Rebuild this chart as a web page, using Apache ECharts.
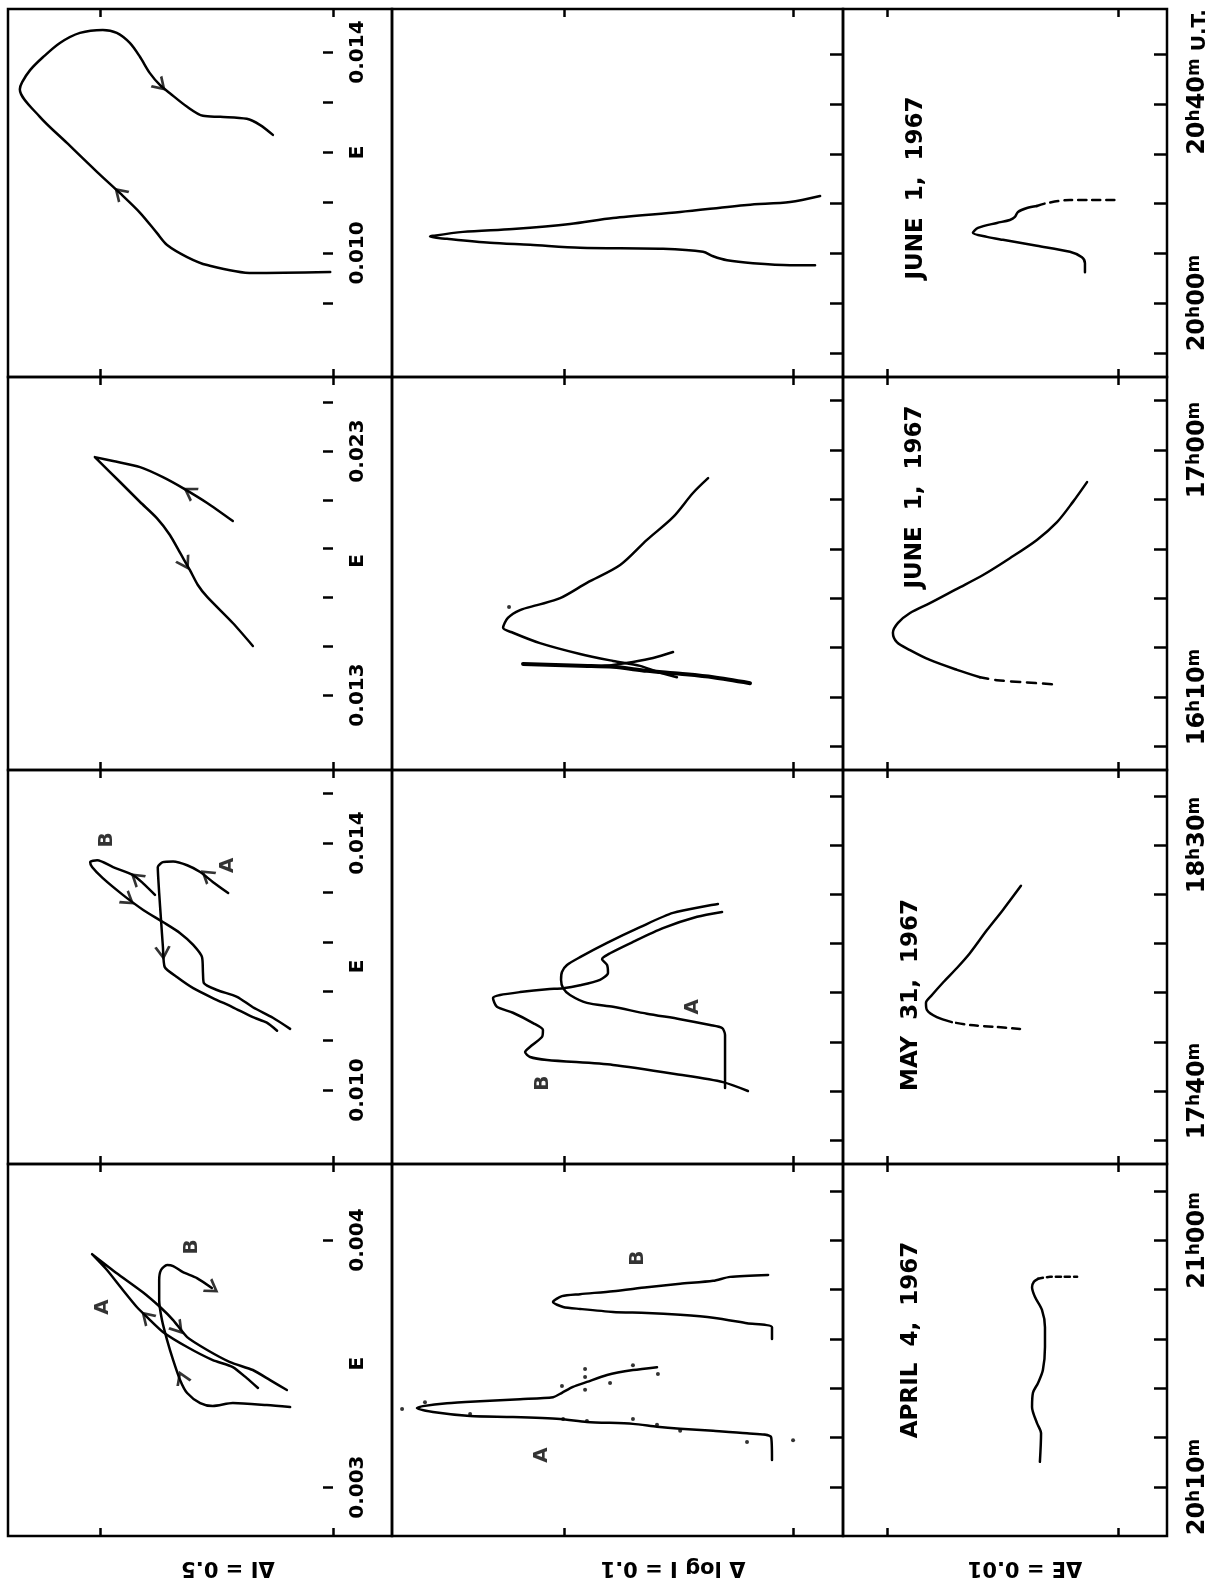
<!DOCTYPE html>
<html><head><meta charset="utf-8">
<script src="https://cdn.jsdelivr.net/npm/echarts@6/dist/echarts.min.js"></script>
<style>html,body{margin:0;padding:0;background:#fff}#c{width:1210px;height:1582px}</style>
</head><body><div id="c"></div>
<script>
// ---------------- DATA ----------------
// scale ticks (horizontal axes)
const scaleTicksI = [0, 0.5];        // ΔI = 0.5
const scaleTicksLog = [0, 0.1];      // Δ log I = 0.1
const scaleTicksE = [0, 0.01];       // ΔE = 0.01

// time axes (minutes of day)
const evTimeTicks = [1190,1200,1210,1220,1230,1240,1250];
const evTimeLabelVals = [1200,1240];
const evTimeLabelTexts = ['20h00m','20h40m U.T.'];
const afTimeTicks = [960,970,980,990,1000,1010,1020,1030];
const afTimeLabelVals = [970,1020];
const afTimeLabelTexts = ['16h10m','17h00m'];
const mayTimeTicks = [1050,1060,1070,1080,1090,1100,1110,1120];
const mayTimeLabelVals = [1060,1110];
const mayTimeLabelTexts = ['17h40m','18h30m'];
const aprTimeTicks = [1210,1220,1230,1240,1250,1260,1270];
const aprTimeLabelVals = [1210,1260];
const aprTimeLabelTexts = ['20h10m','21h00m'];

// E axes of the ΔI panels
const evETicks = [0.009,0.010,0.011,0.012,0.013,0.014];
const evELabelVals = [0.010,0.012,0.014];
const evELabelTexts = ['0.010','E','0.014'];
const afETicks = [0.013,0.015,0.017,0.019,0.021,0.023,0.025];
const afELabelVals = [0.013,0.0185,0.023];
const afELabelTexts = ['0.013','E','0.023'];
const mayETicks = [0.0100,0.0108,0.0116,0.0124,0.0132,0.0140,0.0148];
const mayELabelVals = [0.010,0.012,0.014];
const mayELabelTexts = ['0.010','E','0.014'];
const aprETicks = [0.003,0.004];
const aprELabelVals = [0.003,0.0035,0.004];
const aprELabelTexts = ['0.003','E','0.004'];

const dateLabels = ['JUNE  1,  1967','JUNE  1,  1967','MAY  31,  1967','APRIL  4,  1967'];
const scaleLabels = ['ΔI = 0.5','Δ log I = 0.1','ΔE = 0.01'];

// ---- ΔI vs E loops ----
const evLoopI = [0.006,0.172,0.270,0.313,0.356,0.378,0.414,0.457,0.506,0.571,0.629,0.672,0.667,0.650,0.622,0.586,0.543,0.494,0.464,0.436,0.414,0.393,0.371,0.350,0.313,0.279,0.242,0.185,0.157,0.129];
const evLoopE = [0.00962,0.00960,0.00976,0.00992,0.01016,0.01040,0.01080,0.01119,0.01161,0.01219,0.01271,0.01326,0.01340,0.01364,0.01390,0.01418,0.01438,0.01444,0.01438,0.01418,0.01390,0.01358,0.01334,0.01318,0.01291,0.01273,0.01271,0.01267,0.01255,0.01235];
const evArrows = [[0.457,0.01119,46],[0.371,0.01334,-135]];

const afLoopI = [0.215,0.270,0.322,0.365,0.414,0.472,0.511,0.457,0.414,0.378,0.350,0.328,0.307,0.290,0.270,0.215,0.172];
const afLoopE = [0.02013,0.02087,0.02148,0.02193,0.02234,0.02259,0.02275,0.02173,0.02091,0.02025,0.01956,0.01882,0.01812,0.01751,0.01702,0.01595,0.01501];
const afArrows = [[0.307,0.02132,58],[0.318,0.01841,-150]];

const mayA_I = [0.225,0.258,0.285,0.313,0.343,0.365,0.376,0.373,0.369,0.365,0.361,0.335,0.300,0.258,0.215,0.172,0.142,0.120];
const mayA_E = [0.01319,0.01337,0.01353,0.01364,0.01370,0.01369,0.01361,0.01319,0.01275,0.01232,0.01199,0.01183,0.01165,0.01149,0.01134,0.01118,0.01109,0.01096];
const mayB_I = [0.382,0.408,0.429,0.472,0.506,0.521,0.517,0.494,0.451,0.408,0.365,0.328,0.300,0.281,0.279,0.277,0.249,0.206,0.172,0.129,0.092];
const mayB_E = [0.01316,0.01335,0.01348,0.01361,0.01372,0.01369,0.01361,0.01343,0.01316,0.01292,0.01272,0.01254,0.01235,0.01215,0.01189,0.01173,0.01162,0.01151,0.01134,0.01117,0.01099];
const mayArrows = [[0.270,0.01348,52],[0.365,0.01223,-175],[0.421,0.01343,51],[0.440,0.01308,-127]];
const mayLetters = [['B',0.485,0.01405],['A',0.225,0.01364]];

const aprA_I = [0.161,0.185,0.215,0.258,0.313,0.365,0.399,0.421,0.451,0.485,0.517,0.464,0.408,0.371,0.343,0.313,0.270,0.221,0.172,0.135,0.099];
const aprA_E = [0.003401,0.003441,0.003486,0.003514,0.003567,0.003628,0.003688,0.003729,0.003798,0.003879,0.003943,0.003866,0.003789,0.003729,0.003676,0.003607,0.003555,0.003506,0.003474,0.003433,0.003393];
const aprB_I = [0.092,0.142,0.215,0.258,0.285,0.313,0.328,0.343,0.356,0.367,0.373,0.373,0.369,0.356,0.343,0.322,0.292,0.260];
const aprB_E = [0.003324,0.003332,0.003340,0.003328,0.003340,0.003381,0.003433,0.003514,0.003595,0.003676,0.003757,0.003838,0.003879,0.003899,0.003895,0.003870,0.003846,0.003806];
const aprArrows = [[0.399,0.003688,46],[0.333,0.003644,-140],[0.324,0.003441,23],[0.260,0.003806,-124]];
const aprLetters = [['A',0.494,0.003729],['B',0.303,0.003972]];

// ---- Δ log I vs time ----
const evLogT = [1207.6,1207.6,1208.0,1208.6,1209.4,1210.3,1210.9,1211.1,1211.7,1212.1,1212.9,1213.3,1213.5,1214.3,1214.9,1215.9,1217.1,1218.3,1219.7,1220.3,1221.5];
const evLog = [-0.0096,0.0013,0.0175,0.0288,0.0349,0.0393,0.0568,0.0930,0.1148,0.1323,0.1511,0.1585,0.1572,0.1441,0.1223,0.0974,0.0786,0.0493,0.0201,0.0013,-0.0118];

const afLog1T = [972.8,974.0,974.7,975.3,976.1,976.3,976.7];
const afLog1 = [0.0188,0.0349,0.0493,0.0638,0.0786,0.0930,0.1179];
const afLog2T = [974.0,975.1,976.3,977.3,978.7,980.9,983.0,984.0,986.0,987.6,988.6,990.0,993.1,996.7,1001.8,1006.4,1011.3,1014.3];
const afLog2 = [0.0507,0.0594,0.0668,0.0786,0.0930,0.1105,0.1223,0.1266,0.1245,0.1192,0.1118,0.1017,0.0900,0.0755,0.0638,0.0524,0.0437,0.0371];
const afLog3T = [976.1,976.5,977.1,977.9,979.1];
const afLog3 = [0.0873,0.0786,0.0699,0.0611,0.0524];
const afDotT = [988.2];
const afDot = [0.124];

const mayLogAT = [1060.6,1071.4,1072.8,1073.4,1074.6,1075.7,1077.1,1077.9,1079.5,1080.9,1082.6,1084.2,1085.6,1087.2,1090.1,1093.3,1096.2,1098.0];
const mayLogA = [0.0297,0.0297,0.0310,0.0362,0.0493,0.0638,0.0786,0.0900,0.0974,0.1004,0.1013,0.1009,0.0987,0.0930,0.0812,0.0668,0.0524,0.0328];
const mayLogBT = [1060.0,1061.8,1063.3,1065.3,1066.3,1066.9,1067.9,1069.3,1071.0,1072.4,1073.8,1075.9,1077.1,1078.9,1079.5,1080.1,1080.7,1080.9,1081.5,1082.6,1084.0,1085.6,1086.8,1088.0,1090.3,1093.1,1095.4,1096.4];
const mayLogB = [0.0197,0.0306,0.0493,0.0786,0.1074,0.1148,0.1170,0.1140,0.1096,0.1092,0.1135,0.1223,0.1293,0.1310,0.1279,0.1192,0.1074,0.1004,0.0930,0.0843,0.0808,0.0812,0.0834,0.0799,0.0699,0.0568,0.0419,0.0310];
const mayLogLetters = [['A',0.0437,1077.1],['B',0.1092,1061.6]];

const aprLogAT = [1215.5,1220.1,1220.9,1221.4,1221.8,1222.2,1222.8,1223.2,1223.8,1224.2,1224.4,1225.2,1226.0,1226.4,1227.0,1227.4,1227.8,1228.2,1229.1,1230.3,1231.3,1232.7,1233.7,1234.3];
const aprLogA = [0.0092,0.0096,0.0201,0.0349,0.0493,0.0594,0.0699,0.0900,0.1017,0.1223,0.1410,0.1572,0.1642,0.1616,0.1511,0.1367,0.1192,0.1048,0.1009,0.0961,0.0900,0.0812,0.0699,0.0594];
const aprLogBT = [1240.0,1242.4,1243.2,1244.3,1244.9,1245.3,1245.5,1246.1,1246.5,1247.5,1248.7,1249.1,1249.7,1250.5,1251.2,1251.8,1252.6,1253.0];
const aprLogB = [0.0092,0.0092,0.0201,0.0349,0.0493,0.0638,0.0786,0.0930,0.1004,0.1048,0.1009,0.0930,0.0786,0.0638,0.0493,0.0349,0.0275,0.0109];
const aprDotsT = [1225.8,1227.2,1224.8,1230.5,1233.9,1232.3,1229.7,1231.1,1234.7,1232.9,1223.8,1222.6,1221.4,1219.1,1223.8,1223.4,1219.5];
const aprDots = [0.1707,0.1607,0.1410,0.1009,0.0908,0.0908,0.0908,0.0799,0.0699,0.0590,0.0699,0.0594,0.0493,0.0201,0.1004,0.0900,0.0];
const aprLogLetters = [['A',0.1096,1216.5],['B',0.0677,1256.4]];

// ---- ΔE vs time ----
const evDET = [1206.2,1208.0,1209.2,1210.3,1211.5,1212.7,1213.3,1214.1,1215.1,1216.1,1216.7,1217.3,1218.3,1219.1,1219.5];
const evDE = [0.00143,0.00143,0.00156,0.00208,0.00351,0.00498,0.00567,0.00628,0.00606,0.00524,0.00468,0.00446,0.00433,0.00394,0.00351];
const evDEdashT = [1219.5,1220.1,1220.7,1220.7,1220.7];
const evDEdash = [0.00351,0.00307,0.00208,0.00121,-0.00009];

const afDEdashT = [972.6,973.0,973.4,974.0];
const afDEdash = [0.00286,0.00411,0.00524,0.00597];
const afDET = [974.0,975.5,977.5,979.5,981.1,983.0,985.0,987.0,989.0,991.9,994.7,998.1,1001.8,1005.4,1009.5,1013.5];
const afDE = [0.00597,0.00697,0.00814,0.00900,0.00957,0.00974,0.00952,0.00900,0.00814,0.00697,0.00584,0.00468,0.00351,0.00264,0.00195,0.00134];

const mayDEdashT = [1072.6,1073.0,1073.4,1074.0];
const mayDEdash = [0.00424,0.00524,0.00641,0.00719];
const mayDET = [1074.0,1075.0,1076.5,1077.9,1079.5,1082.0,1085.0,1088.0,1092.7,1096.8,1101.7];
const mayDE = [0.00719,0.00784,0.00827,0.00831,0.00805,0.00758,0.00697,0.00641,0.00567,0.00498,0.00420];

const aprDET = [1215.1,1220.9,1223.0,1226.2,1229.1,1231.1,1233.7,1238.4,1242.4,1245.9,1248.5,1250.5,1251.6,1252.2];
const aprDE = [0.00338,0.00333,0.00351,0.00372,0.00368,0.00346,0.00325,0.00316,0.00316,0.00329,0.00359,0.00372,0.00364,0.00346];
const aprDEdashT = [1252.2,1252.6,1252.6,1252.6];
const aprDEdash = [0.00346,0.00294,0.00238,0.00177];

// ---------------- LAYOUT ----------------
const FONT = 'DejaVu Sans';
const colsCfg = [
  {x0:8,   x1:392,  min:-0.1266,  max:0.6974, ticks:scaleTicksI},
  {x0:392, x1:843,  min:-0.0218,  max:0.1751, ticks:scaleTicksLog},
  {x0:843, x1:1167, min:-0.00212, max:0.0119, ticks:scaleTicksE}
];
const rowsCfg = [
  {y0:9,    y1:377,  eMin:0.007532, eMax:0.014856, eT:evETicks,  eV:evELabelVals,  eX:evELabelTexts,  tMin:1185.13, tMax:1259.10, tT:evTimeTicks,  tV:evTimeLabelVals,  tX:evTimeLabelTexts},
  {y0:377,  y1:770,  eMin:0.009926, eMax:0.026033, eT:afETicks,  eV:afELabelVals,  eX:afELabelTexts,  tMin:955.22,  tMax:1034.78, tT:afTimeTicks,  tV:afTimeLabelVals,  tX:afTimeLabelTexts},
  {y0:770,  y1:1164, eMin:0.008802, eMax:0.015182, eT:mayETicks, eV:mayELabelVals, eX:mayELabelTexts, tMin:1045.16, tMax:1125.24, tT:mayTimeTicks, tV:mayTimeLabelVals, tX:mayTimeLabelTexts},
  {y0:1164, y1:1536, eMin:0.002802, eMax:0.004308, eT:aprETicks, eV:aprELabelVals, eX:aprELabelTexts, tMin:1200.07, tMax:1275.48, tT:aprTimeTicks, tV:aprTimeLabelVals, tX:aprTimeLabelTexts}
];

function lookup(vals, texts, tol) {
  return function (v) {
    for (let i = 0; i < vals.length; i++) if (Math.abs(vals[i] - v) < tol) return texts[i];
    return '';
  };
}
function richTime(s) {
  const m = s.match(/^(\d+)h(\d+)m(.*)$/);
  if (!m) return s;
  let out = '';
  if (m[3]) out += '{p| }';
  out += '{n|' + m[1] + '}{s|h}{n|' + m[2] + '}{s|m}';
  if (m[3]) out += '{u|' + m[3] + '}';
  return out;
}

const grids = [], xAxes = [], yAxes = [];
const tickStyle = {color:'#000', width:2.5};
rowsCfg.forEach((r, ri) => {
  colsCfg.forEach((c, ci) => {
    const g = grids.length;
    grids.push({left:c.x0, top:r.y0, width:c.x1 - c.x0, height:r.y1 - r.y0, show:true,
      borderColor:'#000', borderWidth:2.5, backgroundColor:'transparent', containLabel:false, outerBoundsMode:'none'});
    ['bottom','top'].forEach(pos => {
      xAxes.push({type:'value', gridIndex:g, position:pos, min:c.min, max:c.max, inverse:true,
        axisLine:{show:false, onZero:false}, splitLine:{show:false}, axisLabel:{show:false},
        axisTick:{show:true, inside:true, length:8, customValues:c.ticks, lineStyle:tickStyle}});
    });
    if (ci === 0) {
      const f = lookup(r.eV, r.eX, 1e-7);
      yAxes.push({type:'value', gridIndex:g, position:'right', offset:-59, min:r.eMin, max:r.eMax,
        axisLine:{show:false, onZero:false}, splitLine:{show:false},
        axisTick:{show:true, inside:true, length:10, customValues:r.eT, lineStyle:tickStyle},
        axisLabel:{show:true, inside:false, margin:15, rotate:90, customValues:r.eV, formatter:f,
          fontFamily:FONT, fontSize:20, fontWeight:'bold', color:'#000'}});
    } else {
      const f = lookup(r.tV, r.tX, 0.01);
      yAxes.push({type:'value', gridIndex:g, position:'right', min:r.tMin, max:r.tMax,
        axisLine:{show:false, onZero:false}, splitLine:{show:false},
        axisTick:{show:true, inside:true, length:13, customValues:r.tT, lineStyle:tickStyle},
        axisLabel:{show:ci === 2, inside:false, margin:19, rotate:90, customValues:r.tV,
          formatter:v => richTime(f(v)), color:'#000',
          rich:{
            n:{fontFamily:FONT, fontSize:24, fontWeight:'bold', color:'#000', verticalAlign:'bottom'},
            s:{fontFamily:FONT, fontSize:17, fontWeight:'bold', color:'#000', verticalAlign:'top'},
            u:{fontFamily:FONT, fontSize:20, fontWeight:'bold', color:'#000', verticalAlign:'bottom'},
            p:{width:44, fontSize:20}
          }}});
    }
  });
});

// ---------------- SERIES ----------------
const series = [];
function line(g, xs, ys, opt) {
  opt = opt || {};
  series.push({type:'line', xAxisIndex:2 * g, yAxisIndex:g, data:xs.map((v, i) => [v, ys[i]]),
    symbol:'none', smooth:opt.smooth === undefined ? 0.3 : opt.smooth, silent:true, z:3,
    lineStyle:{color:'#000', width:opt.w || 2.5, type:opt.dash || 'solid', cap:'round', join:'round'}});
}
function arrows(g, list) {
  series.push({type:'scatter', xAxisIndex:2 * g, yAxisIndex:g, silent:true, z:4,
    symbol:'path://M0,10L6,0L12,10', symbolSize:[14, 11],
    itemStyle:{color:'none', borderColor:'#000', borderWidth:2.5},
    data:list.map(a => ({value:[a[0], a[1]], symbolRotate:a[2]}))});
}
function letters(g, list) {
  series.push({type:'scatter', xAxisIndex:2 * g, yAxisIndex:g, silent:true, z:4,
    symbolSize:1, itemStyle:{color:'rgba(0,0,0,0)'},
    label:{show:true, position:'inside', rotate:90, formatter:p => p.name,
      fontFamily:FONT, fontSize:20, fontWeight:'bold', color:'#000'},
    data:list.map(a => ({name:a[0], value:[a[1], a[2]]}))});
}
function dots(g, xs, ys) {
  series.push({type:'scatter', xAxisIndex:2 * g, yAxisIndex:g, silent:true, z:4,
    symbol:'circle', symbolSize:4, itemStyle:{color:'#000'},
    data:xs.map((v, i) => [v, ys[i]])});
}

// row 0: June 1 (20h)
line(0, evLoopI, evLoopE); arrows(0, evArrows);
line(1, evLog, evLogT);
line(2, evDE, evDET); line(2, evDEdash, evDEdashT, {dash:[8, 6]});
// row 1: June 1 (16h)
line(3, afLoopI, afLoopE, {smooth:0.25}); arrows(3, afArrows);
line(4, afLog1, afLog1T, {w:4}); line(4, afLog2, afLog2T); line(4, afLog3, afLog3T); dots(4, afDot, afDotT);
line(5, afDE, afDET); line(5, afDEdash, afDEdashT, {dash:[9, 7]});
// row 2: May 31
line(6, mayA_I, mayA_E, {smooth:0.2}); line(6, mayB_I, mayB_E, {smooth:0.25}); arrows(6, mayArrows); letters(6, mayLetters);
line(7, mayLogA, mayLogAT, {smooth:0.25}); line(7, mayLogB, mayLogBT, {smooth:0.25}); letters(7, mayLogLetters);
line(8, mayDE, mayDET); line(8, mayDEdash, mayDEdashT, {dash:[8, 6]});
// row 3: April 4
line(9, aprA_I, aprA_E, {smooth:0.2}); line(9, aprB_I, aprB_E, {smooth:0.25}); arrows(9, aprArrows); letters(9, aprLetters);
line(10, aprLogA, aprLogAT, {smooth:0.25}); line(10, aprLogB, aprLogBT, {smooth:0.25}); dots(10, aprDots, aprDotsT); letters(10, aprLogLetters);
line(11, aprDE, aprDET); line(11, aprDEdash, aprDEdashT, {dash:[5, 4]});

// ---------------- TEXT ----------------
const datePos = [[916,188],[915,497],[911,995],[911,1340]];
const scalePos = [[228,1567],[673,1567],[1025,1567]];
const graphic = [];
dateLabels.forEach((t, i) => graphic.push({type:'text', x:datePos[i][0], y:datePos[i][1], rotation:Math.PI / 2,
  style:{text:t, fontFamily:FONT, fontSize:23, fontWeight:'bold', fill:'#000', align:'center', verticalAlign:'middle', textAlign:'center', textVerticalAlign:'middle'}}));
scaleLabels.forEach((t, i) => graphic.push({type:'text', x:scalePos[i][0], y:scalePos[i][1], rotation:Math.PI,
  style:{text:t, fontFamily:FONT, fontSize:21, fontWeight:'bold', fill:'#000', align:'center', verticalAlign:'middle', textAlign:'center', textVerticalAlign:'middle'}}));

const chart = echarts.init(document.getElementById('c'), null, {renderer:'canvas'});
chart.setOption({animation:false, backgroundColor:'#fff', grid:grids, xAxis:xAxes, yAxis:yAxes, series:series, graphic:graphic});
</script></body></html>
